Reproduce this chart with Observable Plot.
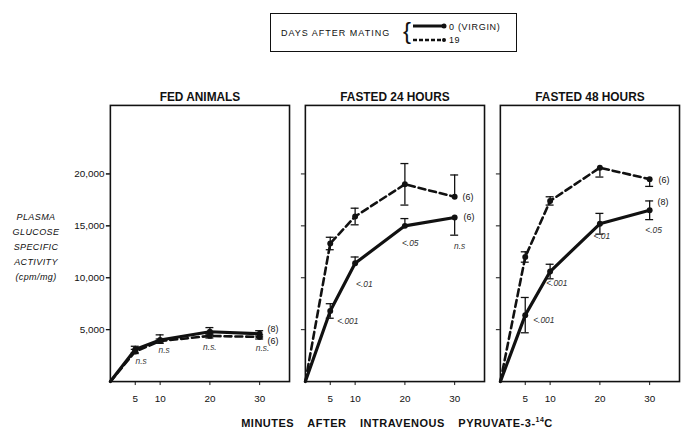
<!DOCTYPE html>
<html><head><meta charset="utf-8">
<script src="https://cdn.jsdelivr.net/npm/d3@7"></script>
<script src="https://cdn.jsdelivr.net/npm/@observablehq/plot@0.6"></script>
<style>
html,body{margin:0;padding:0;background:#fff;overflow:hidden;width:681px;height:439px;}
body{position:relative;font-family:"Liberation Sans",Arial,sans-serif;color:#111;}
#chart{position:absolute;left:0;top:0;}
.legend{position:absolute;left:270px;top:13px;width:245px;height:37px;border:1.5px solid #111;}
.legend .lt{position:absolute;left:10px;top:14px;font-size:9px;letter-spacing:1px;white-space:nowrap;}
.legend .brace{position:absolute;left:132px;top:3px;font-size:24px;line-height:28px;font-weight:normal;}
.legend svg{position:absolute;left:140px;top:5px;}
.legend .g1{position:absolute;left:178px;top:8px;font-size:9px;letter-spacing:0.7px;white-space:nowrap;}
.legend .g2{position:absolute;left:178px;top:21px;font-size:9px;letter-spacing:0.5px;}
.ytitle{position:absolute;left:0;top:210px;width:72px;text-align:center;font-style:italic;font-size:9px;line-height:15px;letter-spacing:0.4px;}
.xtitle{position:absolute;left:147px;top:416px;width:500px;text-align:center;font-weight:bold;font-size:11px;word-spacing:10px;letter-spacing:0.5px;white-space:nowrap;}
</style></head><body>
<div id="chart"></div>
<div class="legend">
  <div class="lt">DAYS AFTER MATING</div>
  <div class="brace">{</div>
  <svg width="40" height="30"><line x1="2" y1="7" x2="33" y2="7" stroke="#111" stroke-width="3"/><circle cx="33" cy="7" r="2.5" fill="#111"/><line x1="2" y1="21" x2="33" y2="21" stroke="#111" stroke-width="2.4" stroke-dasharray="4,2"/><circle cx="33" cy="21" r="2" fill="#111"/></svg>
  <div class="g1">0 (VIRGIN)</div>
  <div class="g2">19</div>
</div>
<div class="ytitle">PLASMA<br>GLUCOSE<br>SPECIFIC<br>ACTIVITY<br>(cpm/mg)</div>
<div class="xtitle">MINUTES AFTER INTRAVENOUS PYRUVATE-3-<sup style="font-size:7px">14</sup>C</div>
<script>
// ---- data ----
const panels = ["FED ANIMALS", "FASTED 24 HOURS", "FASTED 48 HOURS"];
const minutes = [0, 5, 10, 20, 30];
const xTicks = [5, 10, 20, 30];
const yTicks = [5000, 10000, 15000, 20000];

const fedVirgin = [0, 3100, 4000, 4800, 4600];
const fedDay19  = [0, 2900, 3900, 4400, 4300];
const f24Virgin = [0, 6800, 11400, 15000, 15800];
const f24Day19  = [0, 13300, 15900, 19000, 17800];
const f48Virgin = [0, 6400, 10600, 15200, 16500];
const f48Day19  = [0, 12000, 17400, 20600, 19500];

const fedVirginUp   = [0, 300, 500, 400, 300];
const fedVirginDown = [0, 300, 300, 300, 300];
const fedDay19Up    = [0, 200, 200, 200, 200];
const fedDay19Down  = [0, 200, 200, 200, 200];
const f24VirginUp   = [0, 700, 600, 700, 0];
const f24VirginDown = [0, 700, 0, 0, 1700];
const f24Day19Up    = [0, 600, 800, 2000, 2100];
const f24Day19Down  = [0, 600, 800, 2000, 0];
const f48VirginUp   = [0, 1700, 700, 1000, 900];
const f48VirginDown = [0, 1700, 700, 1000, 900];
const f48Day19Up    = [0, 500, 400, 0, 0];
const f48Day19Down  = [0, 500, 400, 900, 700];

const fedP = ["n.s", "n.s", "n.s.", "n.s."];
const f24P = ["<.001", "<.01", "<.05", "n.s"];
const f48P = ["<.001", "<.001", "<.01", "<.05"];

const fedN = ["(8)", "(6)"];
const f24N = ["(6)", "(6)"];
const f48N = ["(8)", "(6)"];

// ---- build tables ----
const V = "0 (VIRGIN)", D = "19";
const virgin = [fedVirgin, f24Virgin, f48Virgin];
const day19 = [fedDay19, f24Day19, f48Day19];
const vUp = [fedVirginUp, f24VirginUp, f48VirginUp], vDn = [fedVirginDown, f24VirginDown, f48VirginDown];
const dUp = [fedDay19Up, f24Day19Up, f48Day19Up], dDn = [fedDay19Down, f24Day19Down, f48Day19Down];
const pVals = [fedP, f24P, f48P];
const nVals = [fedN, f24N, f48N];

const rows = [];
panels.forEach((panel, i) => minutes.forEach((m, j) => {
  rows.push({panel, group: V, minute: m, value: virgin[i][j], up: vUp[i][j], down: vDn[i][j]});
  rows.push({panel, group: D, minute: m, value: day19[i][j], up: dUp[i][j], down: dDn[i][j]});
}));
const vRows = rows.filter(d => d.group === V);
const dRows = rows.filter(d => d.group === D);
const pts = rows.filter(d => d.minute > 0);
const upCaps = pts.filter(d => d.up > 0);
const dnCaps = pts.filter(d => d.down > 0);

// label offsets (px) relative to virgin points: [dx, dy, anchor]
const pOffsets = [
  [[6, 12, "middle"], [4, 10, "middle"], [0, 16, "middle"], [3, 15, "middle"]],
  [[7, 10, "start"], [1, 21, "start"], [-3, 18, "start"], [5, 29, "middle"]],
  [[8, 5, "start"], [-4, 12, "start"], [2, 13, "middle"], [4, 20, "middle"]]
];
const nOffsets = [[[8, -5], [8, 4]], [[9, 0], [8, 0]], [[8, -8], [9, 1]]];

const pMarks = [];
panels.forEach((panel, i) => {
  pVals[i].forEach((t, k) => {
    const row = vRows.find(d => d.panel === panel && d.minute === xTicks[k]);
    const [dx, dy, anchor] = pOffsets[i][k];
    pMarks.push(Plot.text([row], {x: "minute", y: "value", fx: "panel", text: () => t, dx, dy, textAnchor: anchor, fontSize: 8.5, fill: "#333", fontStyle: "italic"}));
  });
  [vRows, dRows].forEach((src, g) => {
    const row = src.find(d => d.panel === panel && d.minute === 30);
    const [dx, dy] = nOffsets[i][g];
    pMarks.push(Plot.text([row], {x: "minute", y: "value", fx: "panel", text: () => nVals[i][g], dx, dy, textAnchor: "start", fontSize: 9, fill: "#111"}));
  });
});

const chart = Plot.plot({
  width: 688,
  height: 439,
  marginTop: 106,
  marginBottom: 54,
  marginLeft: 110,
  marginRight: 0,
  style: {fontFamily: "'Liberation Sans', Arial, sans-serif", fontSize: "10px", color: "#111", background: "transparent"},
  fx: {domain: panels, paddingInner: 0.08, paddingOuter: 0, axis: null, label: null},
  x: {domain: [0, 36], label: null},
  y: {domain: [0, 26600], label: null},
  marks: [
    Plot.frame({stroke: "#111", strokeWidth: 1.6}),
    Plot.axisX({ticks: xTicks, tickSize: 4, tickPadding: 10, label: null, fontSize: 10}),
    Plot.axisY({ticks: yTicks, tickSize: 4, tickPadding: 2, tickFormat: d3.format(","), label: null, fontSize: 10}),
    Plot.axisY({ticks: yTicks, tickSize: 4, tickFormat: () => "", label: null, facetAnchor: null}),
    Plot.text(panels, {fx: d => d, frameAnchor: "top", lineAnchor: "bottom", dy: -4, text: d => d, fontWeight: "bold", fontSize: 12, fill: "#111"}),
    Plot.ruleX(pts.filter(d => d.up > 0 || d.down > 0), {x: "minute", y1: d => d.value - d.down, y2: d => d.value + d.up, fx: "panel", stroke: "#111", strokeWidth: 1.3}),
    Plot.ruleY(upCaps, {y: d => d.value + d.up, x1: d => d.minute - 0.8, x2: d => d.minute + 0.8, fx: "panel", stroke: "#111", strokeWidth: 1.3}),
    Plot.ruleY(dnCaps, {y: d => d.value - d.down, x1: d => d.minute - 0.8, x2: d => d.minute + 0.8, fx: "panel", stroke: "#111", strokeWidth: 1.3}),
    Plot.line(dRows, {x: "minute", y: "value", fx: "panel", stroke: "#111", strokeWidth: 2.6, strokeDasharray: "7,4"}),
    Plot.line(vRows, {x: "minute", y: "value", fx: "panel", stroke: "#111", strokeWidth: 3.2}),
    Plot.dot(pts, {x: "minute", y: "value", fx: "panel", r: 3, fill: "#111", stroke: null}),
    ...pMarks
  ]
});
document.getElementById("chart").appendChild(chart);
</script>
</body></html>
